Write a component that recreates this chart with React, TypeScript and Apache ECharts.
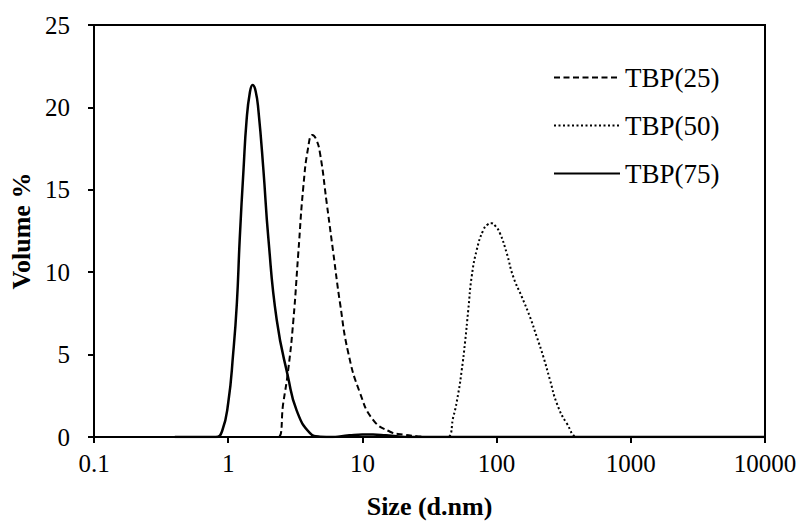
import React, { useEffect, useRef } from "react";
import * as echarts from "echarts";

// TBP(25) - dashed
const sizes25 = [0.4, 1, 2.0, 2.36, 2.57, 2.8, 3.06, 3.33, 3.63, 3.95, 4.23, 4.5, 4.83, 5.42, 6.07, 6.81, 7.85, 9.6, 12.05, 16.06, 20, 25.4, 30, 100, 1000, 10000];
const vol25 = [0, 0, 0, 0, 2.04, 4.07, 7.1, 11.17, 15.19, 17.6, 18.33, 18.1, 17.23, 14.2, 11.17, 8.13, 5.1, 2.67, 1.03, 0.32, 0.15, 0.05, 0, 0, 0, 0];

// TBP(50) - dotted
const sizes50 = [0.4, 10, 30, 42.5, 47.6, 51.8, 55.0, 58.1, 61.5, 65.2, 71.1, 79.6, 86, 91.9, 98, 106, 119, 133, 154, 177, 199, 223, 250, 281, 333, 406, 500, 1000, 10000];
const vol50 = [0, 0, 0, 0, 1.23, 2.65, 4.07, 5.69, 7.71, 9.73, 11.35, 12.56, 12.9, 12.97, 12.8, 12.36, 11.15, 9.73, 8.51, 7.3, 6.09, 4.87, 3.46, 2.04, 0.83, 0, 0, 0, 0];

// TBP(75) - solid
const sizes75 = [0.4, 0.6, 0.81, 0.9, 1.0, 1.09, 1.16, 1.22, 1.3, 1.37, 1.45, 1.52, 1.6, 1.68, 1.83, 1.99, 2.3, 2.8, 3.24, 4.07, 4.83, 6, 7, 8, 10, 12, 15, 18, 22, 30, 100, 1000, 10000];
const vol75 = [0, 0, 0, 0.35, 2.06, 5.1, 8.1, 12.1, 16.2, 19.2, 20.9, 21.36, 21.0, 19.8, 16.2, 12.1, 7.1, 3.6, 1.6, 0.24, 0.02, 0, 0.05, 0.1, 0.15, 0.15, 0.1, 0.05, 0, 0, 0, 0, 0];

const seriesNames = ["TBP(25)", "TBP(50)", "TBP(75)"];
const yTicks = [0, 25, 5]; // min, max, interval
const xRange = [0.1, 10000];

const zip = (xs: number[], ys: number[]) => xs.map((x, i) => [x, ys[i]]);

const FONT = '"Liberation Serif", "Times New Roman", serif';

export default function App() {
  const ref = useRef<HTMLDivElement>(null);
  useEffect(() => {
    if (!ref.current) return;
    const chart = echarts.init(ref.current, undefined, { renderer: "svg" });
    const common = {
      type: "line",
      showSymbol: false,
      symbol: "none",
      smooth: 0.5,
      color: "#000",
    };
    chart.setOption({
      animation: false,
      backgroundColor: "#fff",
      textStyle: { fontFamily: FONT, color: "#000" },
      grid: {
        left: 94,
        right: 39,
        top: 25,
        bottom: 86,
        show: true,
        borderColor: "#000",
        borderWidth: 2,
        containLabel: false,
        outerBoundsMode: "none",
      },
      legend: {
        orient: "vertical",
        left: 548,
        top: 59,
        itemWidth: 66,
        itemHeight: 14,
        itemGap: 21,
        selectedMode: false,
        itemStyle: { opacity: 0 },
        textStyle: { fontFamily: FONT, fontSize: 27, color: "#000" },
        data: seriesNames,
      },
      xAxis: {
        type: "log",
        logBase: 10,
        min: xRange[0],
        max: xRange[1],
        name: "Size (d.nm)",
        nameLocation: "middle",
        nameGap: 56,
        nameTextStyle: { fontFamily: FONT, fontSize: 26, fontWeight: "bold", color: "#000" },
        axisLine: { show: true, lineStyle: { color: "#000", width: 2 } },
        axisTick: { show: true, inside: false, length: 6, lineStyle: { color: "#000", width: 2 } },
        minorTick: { show: false },
        splitLine: { show: false },
        axisLabel: {
          fontFamily: FONT,
          fontSize: 25,
          color: "#000",
          margin: 14,
          formatter: (v: number) => String(Number(v.toPrecision(6))),
        },
      },
      yAxis: {
        type: "value",
        min: yTicks[0],
        max: yTicks[1],
        interval: yTicks[2],
        name: "Volume %",
        nameLocation: "middle",
        nameGap: 58,
        nameTextStyle: { fontFamily: FONT, fontSize: 26, fontWeight: "bold", color: "#000" },
        axisLine: { show: true, lineStyle: { color: "#000", width: 2 } },
        axisTick: { show: true, inside: false, length: 6, lineStyle: { color: "#000", width: 2 } },
        splitLine: { show: false },
        axisLabel: { fontFamily: FONT, fontSize: 25, color: "#000", margin: 24 },
      },
      series: [
        {
          ...common,
          name: seriesNames[0],
          data: zip(sizes25, vol25),
          lineStyle: { color: "#000", width: 2, type: [6, 3.5] },
          z: 3,
        },
        {
          ...common,
          name: seriesNames[1],
          data: zip(sizes50, vol50),
          lineStyle: { color: "#000", width: 2, type: [2, 2.5] },
          z: 2,
        },
        {
          ...common,
          name: seriesNames[2],
          data: zip(sizes75, vol75),
          lineStyle: { color: "#000", width: 2.5, type: "solid" },
          z: 4,
        },
      ],
    });
    return () => chart.dispose();
  }, []);
  return (
    <div
      ref={ref}
      style={{ position: "fixed", left: 0, top: 0, width: 804, height: 523, background: "#fff" }}
    />
  );
}
